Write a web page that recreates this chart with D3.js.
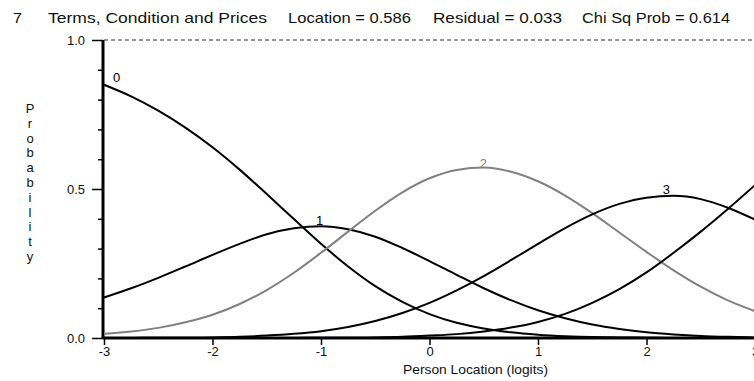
<!DOCTYPE html>
<html>
<head>
<meta charset="utf-8">
<script src="https://cdn.jsdelivr.net/npm/d3@7"></script>
<style>
  html, body { margin: 0; padding: 0; background: #fff; }
  svg { display: block; }
  text { font-family: "Liberation Sans", Arial, sans-serif; fill: #111; }
</style>
</head>
<body>
<svg id="chart" width="754" height="381"></svg>
<script>
// ---- data ----
const theta = [-3, -2.75, -2.5, -2.25, -2, -1.75, -1.5, -1.25, -1, -0.75, -0.5, -0.25, 0,
               0.25, 0.5, 0.75, 1, 1.25, 1.5, 1.75, 2, 2.25, 2.5, 2.75, 3];
const cat0 = [0.850, 0.811, 0.763, 0.706, 0.640, 0.565, 0.483, 0.399, 0.316, 0.240, 0.174, 0.121, 0.080,
              0.051, 0.032, 0.019, 0.011, 0.006, 0.003, 0.002, 0.001, 0.000, 0.000, 0.000, 0.000];
const cat1 = [0.136, 0.167, 0.202, 0.240, 0.279, 0.316, 0.348, 0.368, 0.375, 0.365, 0.340, 0.302, 0.258,
              0.212, 0.167, 0.127, 0.093, 0.066, 0.045, 0.030, 0.019, 0.012, 0.007, 0.004, 0.002];
const cat2 = [0.014, 0.022, 0.034, 0.053, 0.078, 0.114, 0.161, 0.219, 0.286, 0.357, 0.427, 0.489, 0.536,
              0.564, 0.572, 0.558, 0.526, 0.478, 0.419, 0.354, 0.289, 0.227, 0.172, 0.126, 0.090];
const cat3 = [0.000, 0.000, 0.001, 0.001, 0.002, 0.004, 0.008, 0.014, 0.023, 0.037, 0.057, 0.084, 0.118,
              0.160, 0.208, 0.261, 0.316, 0.369, 0.415, 0.450, 0.471, 0.477, 0.466, 0.437, 0.397];
const cat4 = [0.000, 0.000, 0.000, 0.000, 0.000, 0.000, 0.000, 0.000, 0.001, 0.001, 0.002, 0.004, 0.008,
              0.013, 0.022, 0.035, 0.054, 0.081, 0.118, 0.164, 0.220, 0.286, 0.357, 0.433, 0.513];
const seriesNames = ["0", "1", "2", "3", "4"];
const labelAt = [-3, -1, 0.5, 2.25, null];   // where each curve label sits
const xTicks = [-3, -2, -1, 0, 1, 2, 3];
const yMajor = [0, 0.5, 1];
const yMinor = [0.1, 0.2, 0.3, 0.4, 0.6, 0.7, 0.8, 0.9];
const titleParts = ["7", "Terms, Condition and Prices", "Location = 0.586", "Residual = 0.033", "Chi Sq Prob = 0.614"];
const yTitle = "Probability";
const xTitle = "Person Location (logits)";

// ---- drawing ----
const svg = d3.select("#chart");
const x = d3.scaleLinear().domain([-3, 3]).range([104, 755]);
const y = d3.scaleLinear().domain([0, 1]).range([338, 40]);

// title
const titleX = [13, 48, 288, 433, 582];
const titleW = [9, 219, 123, 129, 148];
titleParts.forEach((t, i) => {
  svg.append("text")
    .attr("x", titleX[i]).attr("y", 23)
    .attr("font-size", 15)
    .attr("textLength", titleW[i]).attr("lengthAdjust", "spacingAndGlyphs")
    .text(t);
});

// dashed line at 1.0
svg.append("line")
  .attr("x1", x(-3)).attr("x2", 754)
  .attr("y1", y(1)).attr("y2", y(1))
  .attr("stroke", "#333").attr("stroke-width", 1.2)
  .attr("stroke-dasharray", "4,3");

// curves
const colors = ["#000", "#000", "#808080", "#000", "#000"];
const allSeries = [cat0, cat1, cat2, cat3, cat4];
const line = d3.line()
  .x((d, i) => x(theta[i]))
  .y(d => y(d))
  .curve(d3.curveMonotoneX);

// x axis
const xAxis = d3.axisBottom(x).tickValues(xTicks).tickSize(7).tickFormat(d3.format("d"));
const gx = svg.append("g").attr("transform", `translate(0,${y(0)})`).call(xAxis);
gx.select(".domain").remove();
gx.selectAll(".tick line").attr("stroke", "#000").attr("stroke-width", 1.5);
gx.selectAll(".tick text")
  .attr("font-size", 13).attr("font-family", "Liberation Sans, Arial, sans-serif")
  .attr("fill", "#111").attr("dy", "0.71em").attr("y", 9)
  .text(d => d < 0 ? "-" + Math.abs(d) : d);
svg.append("line")
  .attr("x1", x(-3) - 1).attr("x2", 754)
  .attr("y1", y(0)).attr("y2", y(0))
  .attr("stroke", "#000").attr("stroke-width", 3);

// y axis
const yAxisMajor = d3.axisLeft(y).tickValues(yMajor).tickSize(11).tickFormat(d3.format(".1f"));
const gy = svg.append("g").attr("transform", `translate(${x(-3) - 1},0)`).call(yAxisMajor);
gy.select(".domain").remove();
gy.selectAll(".tick line").attr("stroke", "#000").attr("stroke-width", 1.5);
gy.selectAll(".tick text")
  .attr("font-size", 13).attr("font-family", "Liberation Sans, Arial, sans-serif")
  .attr("fill", "#111").attr("x", -18);
const yAxisMinor = d3.axisLeft(y).tickValues(yMinor).tickSize(5).tickFormat("");
const gy2 = svg.append("g").attr("transform", `translate(${x(-3) - 1},0)`).call(yAxisMinor);
gy2.select(".domain").remove();
gy2.selectAll(".tick line").attr("stroke", "#000").attr("stroke-width", 1.5);
svg.append("line")
  .attr("x1", x(-3) - 1).attr("x2", x(-3) - 1)
  .attr("y1", y(1)).attr("y2", y(0) + 1)
  .attr("stroke", "#000").attr("stroke-width", 3);

allSeries.forEach((s, k) => {
  svg.append("path")
    .datum(s)
    .attr("d", line)
    .attr("fill", "none")
    .attr("stroke", colors[k])
    .attr("stroke-width", 2);
});

// curve labels
const labelDx = [9, -5, -4, -11];
const labelDy = [-3, -1, 0, -2];
allSeries.forEach((s, k) => {
  if (labelAt[k] === null) return;
  const i = theta.indexOf(labelAt[k]);
  svg.append("text")
    .attr("x", x(theta[i]) + labelDx[k])
    .attr("y", y(s[i]) + labelDy[k])
    .attr("font-size", 13)
    .style("fill", colors[k])
    .text(seriesNames[k]);
});

// y title: stacked letters
yTitle.split("").forEach((ch, i) => {
  svg.append("text")
    .attr("x", 30).attr("y", 113 + i * 14.8)
    .attr("text-anchor", "middle")
    .attr("font-size", 13)
    .text(ch);
});

// x title
svg.append("text")
  .attr("x", 403).attr("y", 374)
  .attr("font-size", 13)
  .attr("textLength", 145).attr("lengthAdjust", "spacingAndGlyphs")
  .text(xTitle);
</script>
</body>
</html>
